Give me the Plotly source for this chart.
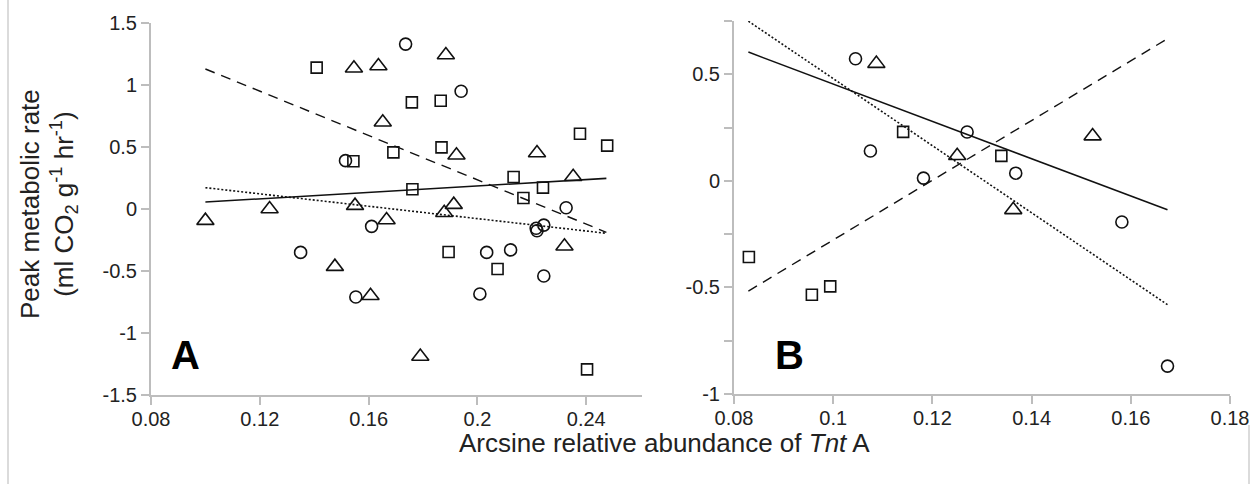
import plotly.graph_objects as go

# ---------------- Data: panel A ----------------
a_circle_x = [0.1736, 0.1515, 0.1611, 0.1350, 0.1553, 0.1940, 0.2326, 0.2216, 0.2219, 0.2244, 0.2034, 0.2122, 0.2244, 0.2009]
a_circle_y = [1.33, 0.39, -0.14, -0.35, -0.71, 0.95, 0.01, -0.155, -0.175, -0.13, -0.35, -0.33, -0.54, -0.685]

a_square_x = [0.1409, 0.1759, 0.1544, 0.1691, 0.1761, 0.1865, 0.1868, 0.2133, 0.2241, 0.2169, 0.2377, 0.2477, 0.1894, 0.2074, 0.2403]
a_square_y = [1.14, 0.86, 0.385, 0.457, 0.159, 0.873, 0.497, 0.258, 0.172, 0.089, 0.607, 0.511, -0.347, -0.484, -1.293]

a_tri_x = [0.1000, 0.1236, 0.1546, 0.1636, 0.1652, 0.1550, 0.1666, 0.1476, 0.1607, 0.1790, 0.1884, 0.1923, 0.2219, 0.2352, 0.1913, 0.1878, 0.2320]
a_tri_y = [-0.094, 0.0, 1.135, 1.153, 0.70, 0.027, -0.089, -0.465, -0.70, -1.19, 1.242, 0.433, 0.452, 0.26, 0.035, -0.03, -0.30]

a_fit_x = [0.100, 0.2474]
a_solid_y = [0.056, 0.247]
a_dashed_y = [1.129, -0.188]
a_dotted_y = [0.172, -0.196]

# ---------------- Data: panel B ----------------
b_circle_x = [0.1045, 0.1075, 0.1270, 0.1182, 0.1368, 0.1582, 0.1674]
b_circle_y = [0.573, 0.14, 0.229, 0.013, 0.036, -0.193, -0.869]

b_square_x = [0.0830, 0.0957, 0.0994, 0.1141, 0.1339]
b_square_y = [-0.357, -0.534, -0.495, 0.23, 0.117]

b_tri_x = [0.1087, 0.1250, 0.1363, 0.1523]
b_tri_y = [0.55, 0.118, -0.136, 0.21]

b_fit_x = [0.0829, 0.1674]
b_solid_y = [0.604, -0.136]
b_dotted_y = [0.749, -0.581]
b_dashed_y = [-0.517, 0.667]

# ---------------- Tick labels ----------------
a_xticks = [0.08, 0.12, 0.16, 0.20, 0.24]
a_xticktext = ["0.08", "0.12", "0.16", "0.2", "0.24"]
a_yticks = [-1.5, -1, -0.5, 0, 0.5, 1, 1.5]
a_yticktext = ["-1.5", "-1", "-0.5", "0", "0.5", "1", "1.5"]
b_xticks = [0.08, 0.10, 0.12, 0.14, 0.16, 0.18]
b_xticktext = ["0.08", "0.1", "0.12", "0.14", "0.16", "0.18"]
b_yticks = [-1, -0.5, 0, 0.5]
b_yticktext = ["-1", "-0.5", "0", "0.5"]

FONT = "Liberation Sans, Arial, sans-serif"
INK = "#111111"
AXC = "#bdbdbd"

fig = go.Figure()


def add_panel(xa, ya, cx, cy, sx, sy, tx, ty, fx, solid, dashed, dotted):
    mk = dict(color=INK, width=1.6)
    fig.add_trace(go.Scatter(x=cx, y=cy, mode="markers", xaxis=xa, yaxis=ya,
                             marker=dict(symbol="circle-open", size=12, line=mk, color=INK)))
    fig.add_trace(go.Scatter(x=sx, y=sy, mode="markers", xaxis=xa, yaxis=ya,
                             marker=dict(symbol="square-open", size=11, line=mk, color=INK)))
    fig.add_trace(go.Scatter(x=tx, y=ty, mode="markers", xaxis=xa, yaxis=ya,
                             marker=dict(symbol="triangle-up-open", size=15, line=mk, color=INK)))
    fig.add_trace(go.Scatter(x=fx, y=solid, mode="lines", xaxis=xa, yaxis=ya,
                             line=dict(color=INK, width=1.6)))
    fig.add_trace(go.Scatter(x=fx, y=dashed, mode="lines", xaxis=xa, yaxis=ya,
                             line=dict(color=INK, width=1.4, dash="10px,7px")))
    fig.add_trace(go.Scatter(x=fx, y=dotted, mode="lines", xaxis=xa, yaxis=ya,
                             line=dict(color=INK, width=1.6, dash="2px,2px")))


add_panel("x", "y", a_circle_x, a_circle_y, a_square_x, a_square_y, a_tri_x, a_tri_y,
          a_fit_x, a_solid_y, a_dashed_y, a_dotted_y)
add_panel("x2", "y2", b_circle_x, b_circle_y, b_square_x, b_square_y, b_tri_x, b_tri_y,
          b_fit_x, b_solid_y, b_dashed_y, b_dotted_y)

W, H = 1251, 484
axis_common = dict(showline=True, linecolor=AXC, linewidth=2, ticks="outside", ticklen=8,
                   tickcolor=AXC, tickwidth=2, showgrid=False, zeroline=False, automargin=False,
                   tickfont=dict(family=FONT, size=20, color="#222222"))

fig.update_layout(
    template="none",
    width=W, height=H, margin=dict(l=0, r=0, t=0, b=0, pad=0, autoexpand=False),
    paper_bgcolor="white", plot_bgcolor="white", showlegend=False,
    xaxis=dict(domain=[151 / W, 642 / W], range=[0.08, 0.2605], anchor="y",
               tickvals=a_xticks, ticktext=a_xticktext, ticklabelstandoff=-3, **axis_common),
    yaxis=dict(domain=[1 - 395 / H, 1 - 23 / H], range=[-1.5, 1.5], anchor="x",
               tickvals=a_yticks, ticktext=a_yticktext, **axis_common),
    xaxis2=dict(domain=[734 / W, 1230 / W], range=[0.08, 0.18], anchor="y2",
                tickvals=b_xticks, ticktext=b_xticktext, ticklabelstandoff=-3, **axis_common),
    yaxis2=dict(domain=[1 - 394 / H, 1 - 21 / H], range=[-1, 0.75], anchor="x2",
                tickvals=b_yticks, ticktext=b_yticktext,
                minor=dict(dtick=0.25, tick0=0, ticks="outside", ticklen=8,
                           tickcolor=AXC, tickwidth=2, showgrid=False),
                **axis_common),
    annotations=[
        dict(text="Peak metabolic rate<br>(ml CO<sub>2</sub> g<sup>-1</sup> hr<sup>-1</sup>)",
             xref="paper", yref="paper", x=49 / W, y=1 - 204 / H, textangle=-90,
             showarrow=False, xanchor="center", yanchor="middle",
             font=dict(family=FONT, size=26, color="#222222")),
        dict(text="Arcsine relative abundance of <i>Tnt</i> A",
             xref="paper", yref="paper", x=664 / W, y=1 - 443 / H,
             showarrow=False, xanchor="center", yanchor="middle",
             font=dict(family=FONT, size=26, color="#222222")),
        dict(text="<b>A</b>", xref="x", yref="y", x=0.0925, y=-1.18, showarrow=False,
             xanchor="center", yanchor="middle", font=dict(family=FONT, size=40, color="#000")),
        dict(text="<b>B</b>", xref="x2", yref="y2", x=0.0912, y=-0.815, showarrow=False,
             xanchor="center", yanchor="middle", font=dict(family=FONT, size=40, color="#000")),
    ],
    shapes=[
        dict(type="line", xref="paper", yref="paper", x0=8 / W, x1=8 / W, y0=0, y1=1,
             line=dict(color="#cfcfcf", width=1.5)),
        dict(type="line", xref="paper", yref="paper", x0=1249 / W, x1=1249 / W, y0=0, y1=1 - 425 / H,
             line=dict(color="#cfcfcf", width=1.5)),
    ],
)

fig.write_html("out.html", config={"displayModeBar": False},
               post_script="document.body.style.margin='0';document.body.style.overflow='hidden';")
